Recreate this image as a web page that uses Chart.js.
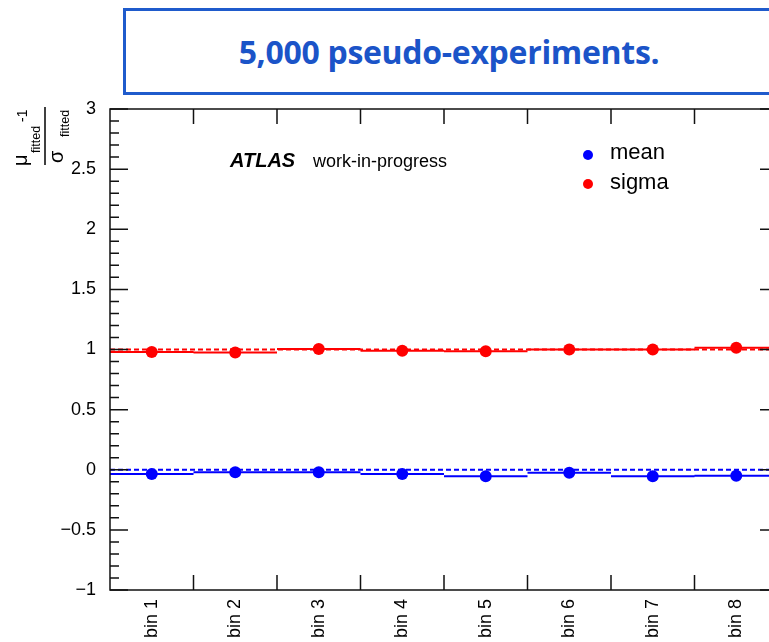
<!DOCTYPE html>
<html>
<head>
<meta charset="utf-8">
<title>pseudo-experiments pulls</title>
<script src="https://cdn.jsdelivr.net/npm/chart.js@4.4.1/dist/chart.umd.min.js"></script>
<style>
    html, body { margin: 0; padding: 0; background: #fff; overflow: hidden; }
    #wrap { position: relative; width: 790px; height: 642px; }
    #banner {
        position: absolute; left: 123px; top: 8px; width: 646px; height: 81px;
        border: 3px solid #1f5bcc; background: #fff; z-index: 2;
        display: flex; align-items: center; justify-content: center;
        font-family: "Open Sans", sans-serif; font-weight: 700; font-size: 32px; color: #1b54c8;
        letter-spacing: -0.3px;
    }
</style>
</head>
<body>
<div id="wrap">
    <div id="banner">5,000 pseudo-experiments.</div>
    <canvas id="pulls" width="790" height="642"></canvas>
</div>
<script>
const binLabels = ["bin 1", "bin 2", "bin 3", "bin 4", "bin 5", "bin 6", "bin 7", "bin 8"];
const meanValues = [-0.035, -0.02, -0.02, -0.035, -0.055, -0.025, -0.055, -0.05];
const sigmaValues = [0.98, 0.975, 1.005, 0.99, 0.985, 1.0, 1.0, 1.015];
const yTickMin = -1;
const yTickMax = 3;

const BLUE = "#0000ff";
const RED = "#ff0000";
const FONT = '"Liberation Sans", Arial, sans-serif';

// points at bin centres
function centres(values) {
    return values.map((v, i) => ({ x: i + 1, y: v }));
}

// one flat segment across each bin, broken between bins
function binSegments(values) {
    const pts = [];
    values.forEach((v, i) => {
        pts.push({ x: i + 0.5, y: v }, { x: i + 1.5, y: v }, { x: i + 1.5, y: null });
    });
    return pts;
}

function refLine(level) {
    return [{ x: 0.5, y: level }, { x: binLabels.length + 0.5, y: level }];
}

// frame with inward ticks, ROOT style
const frame = {
    id: "frame",
    afterDatasetsDraw(chart) {
        const { ctx, chartArea: a, scales } = chart;
        ctx.save();
        ctx.strokeStyle = "#111";
        ctx.lineWidth = 1.5;
        ctx.strokeRect(a.left, a.top, a.right - a.left, a.bottom - a.top);
        ctx.beginPath();
        for (let k = 0; k <= (yTickMax - yTickMin) * 10; k++) {
            const v = yTickMin + k / 10;
            const y = scales.y.getPixelForValue(v);
            const len = k % 5 === 0 ? 18 : 9;
            ctx.moveTo(a.left, y); ctx.lineTo(a.left + len, y);
            ctx.moveTo(a.right, y); ctx.lineTo(a.right - len, y);
        }
        for (let i = 1; i < binLabels.length; i++) {
            const x = scales.x.getPixelForValue(i + 0.5);
            ctx.moveTo(x, a.bottom); ctx.lineTo(x, a.bottom - 15);
            ctx.moveTo(x, a.top); ctx.lineTo(x, a.top + 15);
        }
        ctx.stroke();
        ctx.restore();
    }
};

// ATLAS label and legend inside the frame
const labels = {
    id: "labels",
    afterDraw(chart) {
        const ctx = chart.ctx;
        const ds = chart.data.datasets;
        ctx.save();
        ctx.fillStyle = "#000";
        ctx.textBaseline = "alphabetic";
        ctx.font = "italic bold 20px " + FONT;
        ctx.fillText("ATLAS", 230, 167);
        ctx.font = "18px " + FONT;
        ctx.fillText("work-in-progress", 313, 167);

        const rows = [[ds[0], 155, 159], [ds[1], 184, 189]];
        rows.forEach(([d, cy, base]) => {
            ctx.fillStyle = d.backgroundColor;
            ctx.beginPath();
            ctx.arc(588, cy, 5, 0, Math.PI * 2);
            ctx.fill();
            ctx.fillStyle = "#000";
            ctx.font = "22px " + FONT;
            ctx.fillText(d.label, 610, base);
        });
        ctx.restore();
    }
};

// y title: (mu_fitted - 1) / sigma_fitted, rotated
const yTitle = {
    id: "yTitle",
    afterDraw(chart) {
        const ctx = chart.ctx;
        ctx.save();
        ctx.translate(45, 136);
        ctx.rotate(-Math.PI / 2);
        ctx.fillStyle = "#000";
        ctx.textBaseline = "alphabetic";
        ctx.font = "20px " + FONT;
        ctx.fillText("μ", -30, -18);
        ctx.fillText("σ", -27, 18);
        ctx.font = "12.5px " + FONT;
        ctx.fillText("fitted", -17, -5);
        ctx.fillText("fitted", -1, 24);
        ctx.font = "14px " + FONT;
        ctx.fillText("-1", 14, -18);
        ctx.strokeStyle = "#000";
        ctx.lineWidth = 1.5;
        ctx.beginPath();
        ctx.moveTo(-29, 0); ctx.lineTo(29, 0);
        ctx.stroke();
        ctx.restore();
    }
};

new Chart(document.getElementById("pulls"), {
    type: "scatter",
    data: {
        datasets: [
            { label: "mean", data: centres(meanValues), backgroundColor: BLUE, borderColor: BLUE,
              pointRadius: 6, pointBorderWidth: 0, showLine: false, order: 0 },
            { label: "sigma", data: centres(sigmaValues), backgroundColor: RED, borderColor: RED,
              pointRadius: 6, pointBorderWidth: 0, showLine: false, order: 0 },
            { label: "mean bins", type: "line", data: binSegments(meanValues), borderColor: BLUE,
              borderWidth: 2, pointRadius: 0, spanGaps: false, order: 1 },
            { label: "sigma bins", type: "line", data: binSegments(sigmaValues), borderColor: RED,
              borderWidth: 2, pointRadius: 0, spanGaps: false, order: 1 },
            { label: "zero", type: "line", data: refLine(0), borderColor: BLUE, borderWidth: 2,
              borderDash: [5, 3], pointRadius: 0, order: 2 },
            { label: "one", type: "line", data: refLine(1), borderColor: RED, borderWidth: 2,
              borderDash: [5, 3], pointRadius: 0, order: 2 }
        ]
    },
    options: {
        responsive: false,
        animation: false,
        layout: { padding: { top: 109, right: 12, left: 0, bottom: 0 } },
        plugins: { legend: { display: false }, tooltip: { enabled: false } },
        scales: {
            x: {
                type: "linear",
                min: 0.5,
                max: binLabels.length + 0.5,
                grid: { display: false },
                border: { display: false },
                afterBuildTicks: (scale) => {
                    scale.ticks = binLabels.map((_, i) => ({ value: i + 1 }));
                },
                afterFit: (scale) => { scale.height = 52; },
                ticks: {
                    autoSkip: false,
                    minRotation: 90,
                    maxRotation: 90,
                    padding: 1,
                    color: "#000",
                    font: { family: FONT, size: 18 },
                    callback: (v) => binLabels[v - 1]
                }
            },
            y: {
                min: yTickMin,
                max: yTickMax,
                grid: { display: false },
                border: { display: false },
                afterFit: (scale) => { scale.width = 110; },
                ticks: {
                    stepSize: 0.5,
                    padding: 6,
                    color: "#000",
                    font: { family: FONT, size: 18 },
                    callback: (v) => (v < 0 ? "\u2212" + Math.abs(v) : String(v))
                }
            }
        }
    },
    plugins: [frame, labels, yTitle]
});
</script>
</body>
</html>
